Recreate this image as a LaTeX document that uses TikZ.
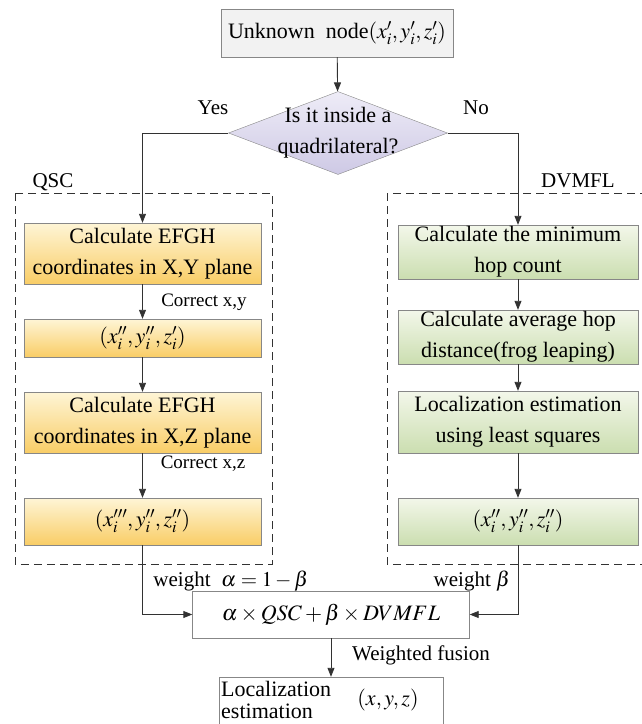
\documentclass[tikz,border=0pt]{standalone}
\usepackage{mathptmx}
\usepackage{fontspec}
\setmainfont{Liberation Serif}
\usetikzlibrary{shapes.geometric,arrows.meta}
\definecolor{linegray}{RGB}{50,50,50}
\definecolor{boxgray}{RGB}{135,135,135}
\definecolor{startfill}{RGB}{242,242,242}
\definecolor{yeltop}{RGB}{254,245,214}
\definecolor{yelbot}{RGB}{249,205,102}
\definecolor{grntop}{RGB}{243,247,234}
\definecolor{grnbot}{RGB}{203,222,176}
\definecolor{lavtop}{RGB}{238,236,247}
\definecolor{lavbot}{RGB}{206,201,229}
\tikzset{
  boxtext/.style={font=\fontsize{22}{31}\selectfont, align=center, inner sep=0},
  startbox/.style={boxtext, draw=boxgray, fill=startfill, minimum width=232, minimum height=48},
  qscbox/.style={boxtext, draw=boxgray, top color=yeltop, bottom color=yelbot, minimum width=237},
  dvbox/.style={boxtext, draw=boxgray, top color=grntop, bottom color=grnbot, minimum width=240},
  plainbox/.style={boxtext, draw=boxgray, fill=white},
  decision/.style={diamond, draw=boxgray, top color=lavtop, bottom color=lavbot, minimum width=219, minimum height=83, inner sep=0},
  lbl/.style={font=\fontsize{21}{24}\selectfont},
  smalllbl/.style={font=\fontsize{19}{22}\selectfont},
  group/.style={draw=linegray, dash pattern=on 8pt off 5pt, line width=0.9pt},
  link/.style={draw=linegray, line width=0.9pt, -{Triangle[length=9pt,width=7pt]}}
}
\begin{document}
\begin{tikzpicture}[x=1pt, y=-1pt]
    \useasboundingbox (0,0) rectangle (641,724);
    \draw[group] (15,193) rectangle (272,564);
    \draw[group] (387,193) rectangle (660,564);
    \node[lbl] (qsclabel) at (53,182) {QSC};
    \node[lbl] (dvlabel) at (578,181) {DVMFL};

    \node[startbox] (start) at (337,33) {Unknown\ \ node$(x_i',y_i',z_i')$};
    \node[decision] (decide) at (338,133) {};
    \node[boxtext] (decidetext) at (decide.center) {Is it inside a\\quadrilateral?};
    \node[lbl] (yeslabel) at (213,108) {Yes};
    \node[lbl] (nolabel) at (476,108) {No};

    \node[qscbox, minimum height=61] (q1) at (142.5,253.5) {Calculate EFGH\\coordinates in X,Y plane};
    \node[qscbox, minimum height=38] (q2) at (142.5,338) {$(x_i'',y_i'',z_i')$};
    \node[qscbox, minimum height=61] (q3) at (142.5,422.5) {Calculate EFGH\\coordinates in X,Z plane};
    \node[qscbox, minimum height=47] (q4) at (142.5,521.5) {$(x_i''',y_i'',z_i'')$};
    \node[smalllbl] (corxy) at (204,302) {Correct x,y};
    \node[smalllbl] (corxz) at (203,464) {Correct x,z};

    \node[dvbox, minimum height=54] (d1) at (518,252) {Calculate the minimum\\hop count};
    \node[dvbox, minimum height=54] (d2) at (518,337) {Calculate average hop\\distance(frog leaping)};
    \node[dvbox, minimum height=62] (d3) at (518,422) {Localization estimation\\using least squares};
    \node[dvbox, minimum height=47] (d4) at (518,521.5) {$(x_i'',y_i'',z_i'')$};

    \node[plainbox, minimum width=277, minimum height=47] (fusion) at (331,614.5) {$\alpha\times QSC+\beta\times DVMFL$};
    \node[lbl] (walpha) at (231,581) {weight\ \ $\alpha=1-\beta$};
    \node[lbl] (wbeta) at (472,581) {weight $\beta$};
    \node[lbl] (wfusion) at (421,655) {Weighted fusion};

    \node[plainbox, minimum width=224, minimum height=60] (result) at (331,707) {};
    \node[boxtext, font=\fontsize{22}{22}\selectfont, align=left, anchor=west] (resultname) at (221,700) {Localization\\estimation};
    \node[boxtext] (resultxyz) at (388,700) {$(x,y,z)$};

    \draw[link] (start) -- (decide);
    \draw[link] (decide.west) -| (q1.north);
    \draw[link] (decide.east) -| (d1.north);
    \draw[link] (q1) -- (q2);
    \draw[link] (q2) -- (q3);
    \draw[link] (q3) -- (q4);
    \draw[link] (d1) -- (d2);
    \draw[link] (d2) -- (d3);
    \draw[link] (d3) -- (d4);
    \draw[link] (q4.south) |- (fusion.west);
    \draw[link] (d4.south) |- (fusion.east);
    \draw[link] (fusion) -- (result);
\end{tikzpicture}
\end{document}
